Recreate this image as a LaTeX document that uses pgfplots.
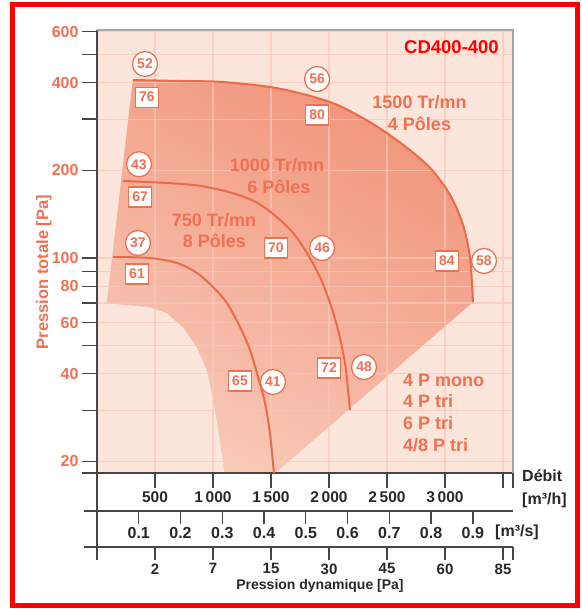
\documentclass[border=0pt]{standalone}
\usepackage{fontspec}
\setmainfont{Liberation Sans}
\usepackage{pgfplots}
\pgfplotsset{compat=1.18}

\definecolor{sal}{RGB}{240,112,82}
\definecolor{curvec}{RGB}{238,104,74}
\definecolor{bgc}{RGB}{252,229,219}
\definecolor{zdark}{RGB}{241,150,124}
\definecolor{zmid}{RGB}{245,180,158}
\definecolor{zlight}{RGB}{248,200,182}
\definecolor{gridc}{RGB}{248,200,182}
\definecolor{axc}{RGB}{70,70,70}
\definecolor{txt}{RGB}{40,40,40}

\newcommand{\fs}[1]{\bfseries\fontsize{#1}{#1}\selectfont}

\tikzset{
  circ/.style={circle, draw=sal, line width=1.3pt, fill=white, text=sal, font=\fs{14}, minimum size=25pt, inner sep=0pt, anchor=center},
  sqr/.style={rectangle, draw=sal, line width=1.3pt, fill=white, text=sal, font=\fs{14}, minimum width=23pt, minimum height=20pt, inner sep=0pt, anchor=center},
}

\begin{document}
\begin{tikzpicture}[x=1pt,y=1pt]

% background and operating zone
\begin{axis}[
  at={(97pt,136pt)}, anchor=south west,
  scale only axis, width=416pt, height=443pt,
  xmin=0, xmax=3586.2, ymode=log, ymin=18.25, ymax=607.5,
  axis line style={draw=none}, xtick=\empty, ytick=\empty, tick style={draw=none},
  axis background/.style={fill=bgc},
]
\addplot[draw=none, fill=zmid, top color=zdark, bottom color=zlight, shading angle=-30]
coordinates {
(310,409) (672,406) (1060,403) (1491,387) (1810,363) (2069,336) (2353,293)
(2638,245) (2871,204) (3043,165) (3155,130) (3216,100) (3241,70.6)
(1534,18.25) (1103,18.25)
(1086,20.2) (1043,26.3) (1000,33.3) (948,41.2) (862,49.4) (741,57.9) (603,64.7) (457,67.9)
(86,70.0)
} -- cycle;
\end{axis}

% grid, axes, curves, labels
\begin{axis}[
  at={(97pt,136pt)}, anchor=south west,
  scale only axis, width=416pt, height=443pt,
  xmin=0, xmax=3586.2, ymode=log, ymin=18.25, ymax=607.5,
  axis lines*=left, axis line style={axc, line width=1.3pt},
  tick align=outside, major tick length=15pt, minor tick length=15pt,
  tick style={axc, line width=1.3pt},
  xtick={500,1000,1500,2000,2500,3000,3500},
  xticklabels={500,1\,000,1\,500,2\,000,2\,500,3\,000,},
  ytick={20,40,60,80,100,200,400,600},
  yticklabels={20,40,60,80,100,200,400,600},
  minor ytick={30,50,70,90,300,500},
  extra x ticks={3586.2}, extra y ticks={18.25},
  extra x tick labels={}, extra y tick labels={},
  extra tick style={grid=none},
  xmajorgrids, ymajorgrids, yminorgrids,
  grid style={gridc, opacity=0.7, line width=1.2pt},
  minor grid style={gridc, opacity=0.7, line width=1.2pt},
  xticklabel style={font=\fs{15.5}, text=txt},
  yticklabel style={font=\fs{16}, text=sal},
]
% 1500 Tr/mn
\addplot[curvec, line width=2pt, smooth, tension=0.5] coordinates {
(310,409) (672,406) (1060,403) (1491,387) (1810,363) (2069,336) (2353,293)
(2638,245) (2871,204) (3043,165) (3155,130) (3216,100) (3241,70.6)};
% 1000 Tr/mn
\addplot[curvec, line width=2pt, smooth, tension=0.5] coordinates {
(224,184) (603,181) (888,177) (1172,167) (1379,155) (1552,138) (1690,122)
(1810,104) (1922,86.0) (2009,70.0) (2078,56.6) (2138,43.6) (2164,35.2) (2181,30.0)};
% 750 Tr/mn
\addplot[curvec, line width=2pt, smooth, tension=0.5] coordinates {
(138,100.8) (457,100) (690,96.1) (862,88.8) (1000,79.5) (1121,70.0) (1233,57.9)
(1319,48.3) (1388,39.0) (1448,31.8) (1491,25.0) (1517,19.75) (1526,18.25)};

% circled values
\addplot[draw=none, mark=none, nodes near coords, point meta=explicit symbolic,
  every node near coord/.append style={circ}]
table[meta=lab, row sep=\\] {
x y lab\\
414 464 52\\
1897 412 56\\
362 210 43\\
353 112.6 37\\
1940 108.2 46\\
3336 97.7 58\\
1517 37.5 41\\
2302 42.2 48\\
};
% boxed values
\addplot[draw=none, mark=none, nodes near coords, point meta=explicit symbolic,
  every node near coord/.append style={sqr}]
table[meta=lab, row sep=\\] {
x y lab\\
431 357 76\\
1897 310 80\\
371 162 67\\
345 88.1 61\\
1543 108.2 70\\
3017 97.7 84\\
1233 37.8 65\\
2000 41.9 72\\
};
\end{axis}

% m3/s row
\begin{axis}[
  at={(97pt,98pt)}, anchor=south west,
  scale only axis, width=416pt, height=38pt,
  xmin=0, xmax=0.996167, ymin=0, ymax=1,
  axis x line*=bottom, axis y line*=left,
  axis line style={axc, line width=1.3pt},
  tick align=outside, major tick length=13pt,
  tick style={axc, line width=1.3pt},
  xtick={0.1,0.2,0.3,0.4,0.5,0.6,0.7,0.8,0.9},
  xticklabels={0.1,0.2,0.3,0.4,0.5,0.6,0.7,0.8,0.9},
  ytick={0}, yticklabels={},
  xticklabel style={font=\fs{16}, text=txt},
]
\addplot[draw=none] coordinates {(0,0)};
\end{axis}

% dynamic pressure row
\begin{axis}[
  at={(97pt,62pt)}, anchor=south west,
  scale only axis, width=416pt, height=36pt,
  xmin=0, xmax=3586.2, ymin=0, ymax=1,
  axis x line*=bottom, axis y line*=left,
  axis line style={axc, line width=1.3pt},
  tick align=outside, major tick length=13pt,
  tick style={axc, line width=1.3pt},
  xtick={0,500,1000,1500,2000,2500,3000,3500,3586.2},
  xticklabels={,2,7,15,30,45,60,85,},
  ytick={0}, yticklabels={},
  xticklabel style={font=\fs{15}, text=txt},
]
\addplot[draw=none] coordinates {(0,0)};
\end{axis}

% frame of the plot area
\draw[gray!70, line width=1.2pt] (97,579) -- (513,579) -- (513,136);

% curve labels
\begin{scope}[every node/.style={text=sal, font=\fs{18}, inner sep=0pt, anchor=base}]
\node at (419.5,500) {1500 Tr/mn};
\node at (419.5,478) {4 Pôles};
\node at (277,437) {1000 Tr/mn};
\node at (279,415) {6 Pôles};
\node at (214,382) {750 Tr/mn};
\node at (214.5,361) {8 Pôles};
\node[anchor=base west] at (403,222) {4 P mono};
\node[anchor=base west] at (403,201) {4 P tri};
\node[anchor=base west] at (403,179) {6 P tri};
\node[anchor=base west] at (403,157) {4/8 P tri};
\end{scope}

\node[text=red, font=\fs{18.5}, inner sep=0pt, anchor=base east] at (499,555) {CD400-400};
\node[text=sal, font=\fs{16.5}, inner sep=0pt, anchor=base, rotate=90] at (48,337) {Pression totale [Pa]};

\begin{scope}[every node/.style={text=txt, font=\fs{16}, inner sep=0pt, anchor=base west}]
\node at (522,127) {Débit};
\node at (522,104) {[m³/h]};
\node at (495,72) {[m³/s]};
\end{scope}
\node[text=txt, font=\fs{14}, inner sep=0pt, anchor=base] at (320,19) {Pression dynamique [Pa]};

% outer red frame
\draw[red, line width=5pt] (12.5,604.5) rectangle (577.5,3.5);
\path (0,0) rectangle (581,609);
\end{tikzpicture}
\end{document}
